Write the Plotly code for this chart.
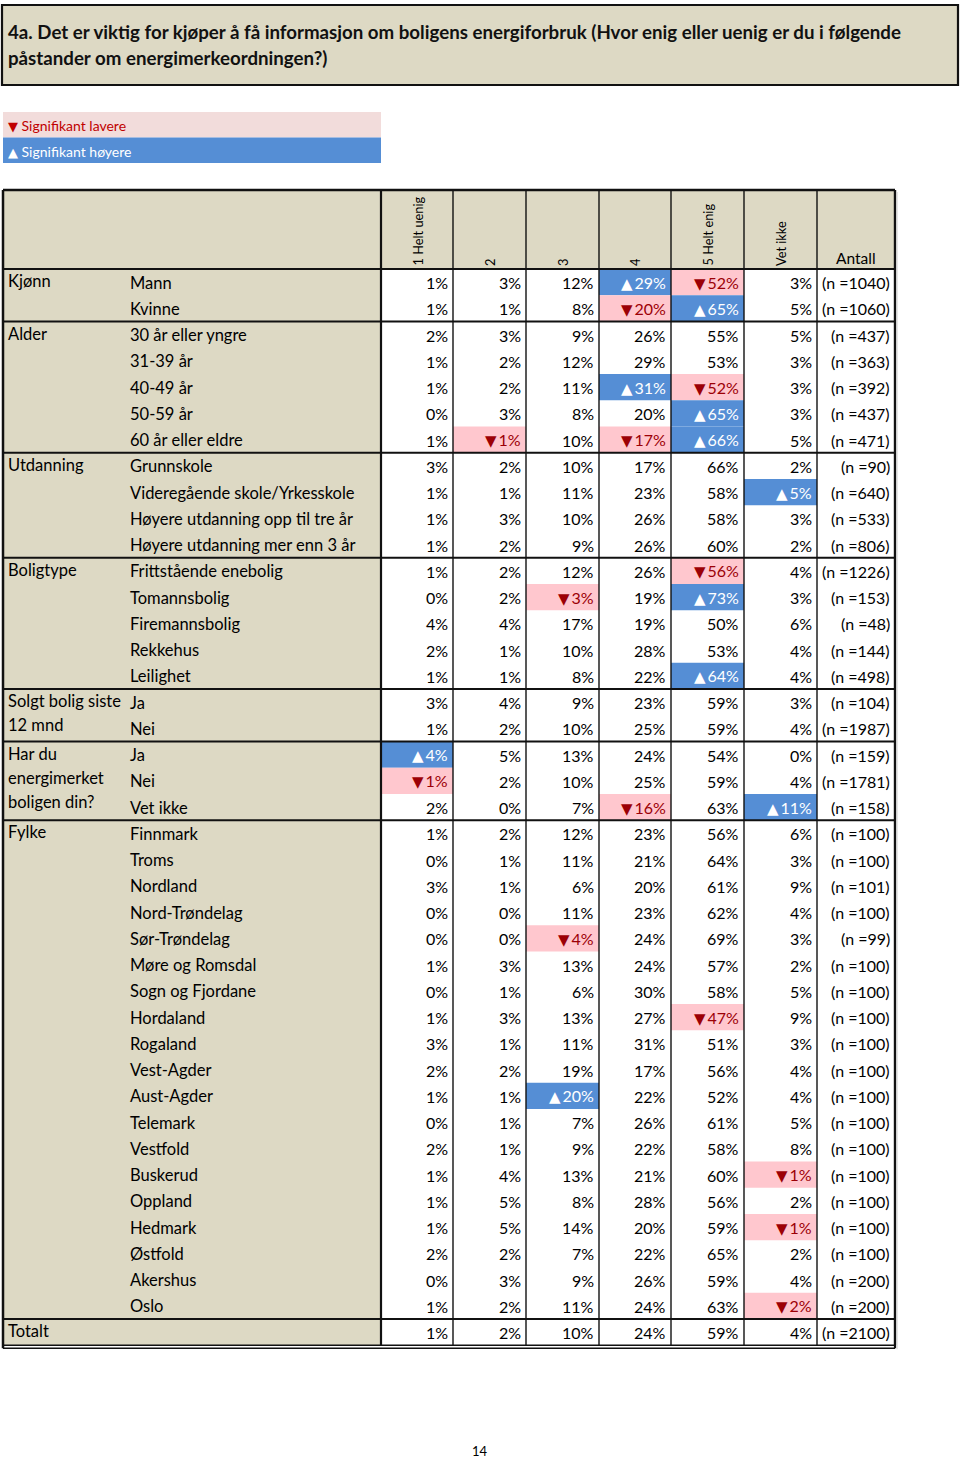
import plotly.graph_objects as go

# ---------------- data ----------------
title_lines = [
    "4a. Det er viktig for kjøper å få informasjon om boligens energiforbruk (Hvor enig eller uenig er du i følgende",
    "påstander om energimerkeordningen?)",
]
legend_low = "Signifikant lavere"
legend_high = "Signifikant høyere"
columns = ["1 Helt uenig", "2", "3", "4", "5 Helt enig", "Vet ikke"]
count_header = "Antall"

groups = [
    ("Kjønn", ["Kjønn"]),
    ("Alder", ["Alder"]),
    ("Utdanning", ["Utdanning"]),
    ("Boligtype", ["Boligtype"]),
    ("Solgt bolig siste 12 mnd", ["Solgt bolig siste", "12 mnd"]),
    ("Har du energimerket boligen din?", ["Har du", "energimerket", "boligen din?"]),
    ("Fylke", ["Fylke"]),
    ("Totalt", ["Totalt"]),
]

row_groups = [
    "Kjønn", "Kjønn",
    "Alder", "Alder", "Alder", "Alder", "Alder",
    "Utdanning", "Utdanning", "Utdanning", "Utdanning",
    "Boligtype", "Boligtype", "Boligtype", "Boligtype", "Boligtype",
    "Solgt bolig siste 12 mnd", "Solgt bolig siste 12 mnd",
    "Har du energimerket boligen din?", "Har du energimerket boligen din?", "Har du energimerket boligen din?",
] + ["Fylke"] * 19 + ["Totalt"]

row_labels = [
    "Mann", "Kvinne",
    "30 år eller yngre", "31-39 år", "40-49 år", "50-59 år", "60 år eller eldre",
    "Grunnskole", "Videregående skole/Yrkesskole", "Høyere utdanning opp til tre år", "Høyere utdanning mer enn 3 år",
    "Frittstående enebolig", "Tomannsbolig", "Firemannsbolig", "Rekkehus", "Leilighet",
    "Ja", "Nei",
    "Ja", "Nei", "Vet ikke",
    "Finnmark", "Troms", "Nordland", "Nord-Trøndelag", "Sør-Trøndelag", "Møre og Romsdal",
    "Sogn og Fjordane", "Hordaland", "Rogaland", "Vest-Agder", "Aust-Agder", "Telemark",
    "Vestfold", "Buskerud", "Oppland", "Hedmark", "Østfold", "Akershus", "Oslo",
    "",
]

helt_uenig = [1, 1, 2, 1, 1, 0, 1, 3, 1, 1, 1, 1, 0, 4, 2, 1, 3, 1, 4, 1, 2,
              1, 0, 3, 0, 0, 1, 0, 1, 3, 2, 1, 0, 2, 1, 1, 1, 2, 0, 1, 1]
val_2 = [3, 1, 3, 2, 2, 3, 1, 2, 1, 3, 2, 2, 2, 4, 1, 1, 4, 2, 5, 2, 0,
         2, 1, 1, 0, 0, 3, 1, 3, 1, 2, 1, 1, 1, 4, 5, 5, 2, 3, 2, 2]
val_3 = [12, 8, 9, 12, 11, 8, 10, 10, 11, 10, 9, 12, 3, 17, 10, 8, 9, 10, 13, 10, 7,
         12, 11, 6, 11, 4, 13, 6, 13, 11, 19, 20, 7, 9, 13, 8, 14, 7, 9, 11, 10]
val_4 = [29, 20, 26, 29, 31, 20, 17, 17, 23, 26, 26, 26, 19, 19, 28, 22, 23, 25, 24, 25, 16,
         23, 21, 20, 23, 24, 24, 30, 27, 31, 17, 22, 26, 22, 21, 28, 20, 22, 26, 24, 24]
helt_enig = [52, 65, 55, 53, 52, 65, 66, 66, 58, 58, 60, 56, 73, 50, 53, 64, 59, 59, 54, 59, 63,
             56, 64, 61, 62, 69, 57, 58, 47, 51, 56, 52, 61, 58, 60, 56, 59, 65, 59, 63, 59]
vet_ikke = [3, 5, 5, 3, 3, 3, 5, 2, 5, 3, 2, 4, 3, 6, 4, 4, 3, 4, 0, 4, 11,
            6, 3, 9, 4, 3, 2, 5, 9, 3, 4, 4, 5, 8, 1, 2, 1, 2, 4, 2, 4]
antall = [1040, 1060, 437, 363, 392, 437, 471, 90, 640, 533, 806, 1226, 153, 48, 144, 498,
          104, 1987, 159, 1781, 158, 100, 100, 101, 100, 99, 100, 100, 100, 100, 100, 100,
          100, 100, 100, 100, 100, 100, 200, 200, 2100]

# significance per row: one char per column, U = higher, D = lower, . = none
significance = [
    "...UD.", "...DU.",
    "......", "......", "...UD.", "....U.", ".D.DU.",
    "......", ".....U", "......", "......",
    "....D.", "..D.U.", "......", "......", "....U.",
    "......", "......",
    "U.....", "D.....", "...D.U",
    "......", "......", "......", "......", "..D...", "......",
    "......", "....D.", "......", "......", "..U...", "......",
    "......", ".....D", "......", ".....D", "......", "......", ".....D",
    "......",
]
page_number = "14"

# ---------------- styling / geometry ----------------
W, H = 960, 1461
FONT = "Lato, Carlito, Calibri, sans-serif"
TRI_FONT = "DejaVu Sans"
TAN = "#DDD9C4"
BLUE = "#558ED5"
PINK = "#FFC7CE"
LEG_PINK = "#F2DCDB"
DARKRED = "#9C0006"
LINE = "#111111"

TABLE_L, TABLE_R = 3, 895
HEAD_T, HEAD_B = 190, 269
ROW_H = 26.25
col_edges = [381, 453, 526, 599, 671, 744, 817, 895]
GROUP_X, LABEL_X = 6, 128

values = [helt_uenig, val_2, val_3, val_4, helt_enig, vet_ikke]
n_rows = len(row_labels)


def row_top(i):
    return HEAD_B + i * ROW_H


def tri(sym, size=13):
    return f'<span style="font-family:{TRI_FONT};font-size:{size}px">{sym}</span>'


shapes = []
ann = []


def rect(x0, y0, x1, y1, fill, lw=0, lc=LINE):
    shapes.append(dict(type="rect", xref="x", yref="y", x0=x0, y0=y0, x1=x1, y1=y1,
                       fillcolor=fill, line=dict(width=lw, color=lc), layer="below"))


def line(x0, y0, x1, y1, lw=1.5, lc=LINE):
    shapes.append(dict(type="line", xref="x", yref="y", x0=x0, y0=y0, x1=x1, y1=y1,
                       line=dict(width=lw, color=lc), layer="above"))


def text(x, y, s, size=16, color="#000000", xa="left", ya="middle", bold=False, angle=0):
    if bold:
        s = "<b>" + s + "</b>"
    ann.append(dict(x=x, y=y, xref="x", yref="y", text=s, showarrow=False,
                    xanchor=xa, yanchor=ya, textangle=angle,
                    font=dict(family=FONT, size=size, color=color)))


# title box
rect(2, 5, 958, 85, TAN, lw=2.2)
text(6, 32, title_lines[0], size=18.7, bold=True, color="#111111")
text(6, 58, title_lines[1], size=18.7, bold=True, color="#111111")

# legend
rect(3, 112, 381, 137.5, LEG_PINK)
rect(3, 137.5, 381, 163, BLUE)
text(6, 125, tri("▼", 13) + " " + legend_low, size=14, color="#C00000")
text(6, 151, tri("▲", 13) + " " + legend_high, size=14, color="#FFFFFF")

# table backgrounds
table_bottom = row_top(n_rows)
rect(TABLE_L, HEAD_T, TABLE_R, HEAD_B, TAN)
rect(TABLE_L, HEAD_B, col_edges[0], table_bottom, TAN)
rect(col_edges[0], HEAD_B, TABLE_R, table_bottom, "#FFFFFF")

# header labels
for j, name in enumerate(columns):
    cx = (col_edges[j] + col_edges[j + 1]) / 2
    text(cx, 268, name, size=12.8, xa="center", ya="bottom", angle=-90)
text((col_edges[6] + col_edges[7]) / 2, 258, count_header, size=15.5, xa="center")

# data cells
for i in range(n_rows):
    y0, y1 = row_top(i), row_top(i + 1)
    yc = (y0 + y1) / 2 + 0.5
    for j in range(6):
        v = values[j][i]
        flag = significance[i][j]
        x0, x1 = col_edges[j], col_edges[j + 1]
        label = f"{v}%"
        color = "#000000"
        if flag == "U":
            rect(x0, y0, x1, y1, BLUE)
            label = tri("▲", 15) + "\u2009" + label
            color = "#FFFFFF"
        elif flag == "D":
            rect(x0, y0, x1, y1, PINK)
            label = tri("▼", 15) + "\u2009" + label
            color = DARKRED
        text(x1 - 3, yc, label, size=16, color=color, xa="right")
    text(col_edges[7] - 3, yc, f"(n ={antall[i]})", size=16, xa="right")
    if row_labels[i]:
        text(LABEL_X, yc, row_labels[i], size=16.5)

# group labels + separators
for key, lines_ in groups:
    idx = [k for k, g in enumerate(row_groups) if g == key]
    first = idx[0]
    for li, s in enumerate(lines_):
        text(GROUP_X, (row_top(first) + row_top(first + 1)) / 2 - 1 + li * 24, s, size=16.5)
    if first > 0:
        line(TABLE_L, row_top(first), TABLE_R, row_top(first), lw=2.2)

# grid lines
line(TABLE_L, HEAD_B, TABLE_R, HEAD_B, lw=2.2)
for k, x in enumerate(col_edges):
    line(x, HEAD_T, x, table_bottom, lw=2.2 if k in (0, len(col_edges) - 1) else 1.4)
line(TABLE_L, HEAD_T, TABLE_R, HEAD_T, lw=2.5)
line(TABLE_L, HEAD_T, TABLE_L, table_bottom + 3, lw=2.5)
line(TABLE_R, HEAD_T, TABLE_R, table_bottom + 3, lw=2.2)
line(TABLE_L, table_bottom, TABLE_R, table_bottom, lw=1.6)
line(TABLE_L, table_bottom + 3, TABLE_R, table_bottom + 3, lw=1.6)
line(TABLE_R + 2, HEAD_T + 2, TABLE_R + 2, table_bottom + 4, lw=1, lc="#CCCCCC")

# page number
text(W / 2, 1451, page_number, size=13, xa="center")

fig = go.Figure()
fig.add_trace(go.Scatter(x=[0, W], y=[0, H], mode="markers",
                         marker=dict(opacity=0), hoverinfo="skip", showlegend=False))
fig.update_layout(
    width=W, height=H,
    margin=dict(l=0, r=0, t=0, b=0),
    paper_bgcolor="#FFFFFF", plot_bgcolor="#FFFFFF",
    xaxis=dict(range=[0, W], visible=False, fixedrange=True),
    yaxis=dict(range=[H, 0], visible=False, fixedrange=True),
    shapes=shapes, annotations=ann, showlegend=False,
)
fig.write_html(
    "out.html",
    config=dict(displayModeBar=False),
    post_script="document.body.style.margin='0';document.body.style.overflow='hidden';",
)
